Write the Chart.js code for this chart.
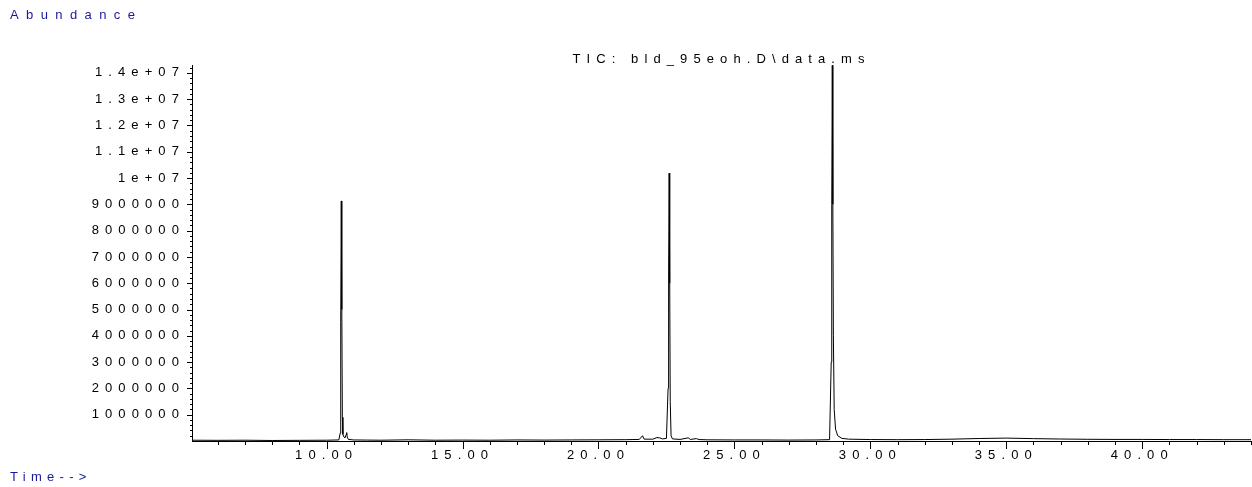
<!DOCTYPE html>
<html>
<head>
<meta charset="utf-8">
<script src="https://cdn.jsdelivr.net/npm/chart.js@4.4.1/dist/chart.umd.min.js"></script>
<style>
  html, body { margin: 0; padding: 0; background: #fff; }
  canvas { display: block; }
</style>
</head>
<body>
<canvas id="tic" width="1252" height="487"></canvas>
<script>
// retention time (min) and abundance
const times = [
  5.05, 6.0, 7.0, 8.0, 9.0, 10.0, 10.45, 10.50, 10.52, 10.54, 10.56, 10.58, 10.60,
  10.64, 10.68, 10.72, 10.74, 10.76, 10.80, 11.0, 11.5, 12.0, 13.0, 14.0, 15.0,
  16.0, 17.0, 18.0, 19.0, 20.0, 21.0, 21.5, 21.62, 21.68, 22.0, 22.15, 22.25,
  22.35, 22.50, 22.56, 22.58, 22.60, 22.62, 22.64, 22.67, 22.72, 23.0, 23.3,
  23.38, 23.6, 23.7, 24.0, 25.0, 26.0, 27.0, 28.0, 28.50, 28.56, 28.58, 28.60,
  28.62, 28.64, 28.67, 28.72, 28.80, 28.95, 29.2, 30.0, 31.0, 32.0, 33.0, 34.0,
  35.0, 36.0, 37.0, 38.0, 39.0, 40.0, 41.0, 42.0, 43.0, 44.0
];
const abundance = [
  30000, 25000, 30000, 20000, 25000, 30000, 40000, 300000, 4500000, 9130000, 5000000, 900000, 250000,
  150000, 120000, 250000, 320000, 150000, 60000, 40000, 35000, 30000, 45000, 30000, 35000,
  30000, 40000, 35000, 40000, 45000, 50000, 60000, 200000, 70000, 70000, 130000, 120000,
  80000, 100000, 2000000, 6500000, 10190000, 6000000, 1500000, 200000, 80000, 60000, 120000,
  60000, 90000, 55000, 45000, 40000, 40000, 35000, 40000, 50000, 3000000, 9000000, 14290000,
  9000000, 4000000, 1200000, 450000, 200000, 100000, 70000, 55000, 50000, 55000, 70000, 95000,
  110000, 90000, 75000, 65000, 60000, 60000, 55000, 55000, 50000, 50000
];

const xTickValues = [10, 15, 20, 25, 30, 35, 40];
const xTickLabels = ['10.00', '15.00', '20.00', '25.00', '30.00', '35.00', '40.00'];
const xMinorTicks = [6, 7, 8, 9, 11, 12, 13, 14, 16, 17, 18, 19, 21, 22, 23, 24, 26, 27, 28, 29,
  31, 32, 33, 34, 36, 37, 38, 39, 41, 42, 43, 44];

const yTickValues = [1000000, 2000000, 3000000, 4000000, 5000000, 6000000, 7000000,
  8000000, 9000000, 10000000, 11000000, 12000000, 13000000, 14000000];
const yTickLabels = ['1000000', '2000000', '3000000', '4000000', '5000000', '6000000', '7000000',
  '8000000', '9000000', '1e+07', '1.1e+07', '1.2e+07', '1.3e+07', '1.4e+07'];
const yMinorStep = 200000;

const titleText = 'TIC: bld_95eoh.D\\data.ms';
const yAxisText = 'Abundance';
const xAxisText = 'Time-->';

const FONT = '"Liberation Sans", Arial, sans-serif';
const FONT_SIZE = 13;
const SPACING = '6.1px';

Chart.defaults.font.family = FONT;
Chart.defaults.font.size = FONT_SIZE;
Chart.defaults.color = '#000';

// spaced-out lettering like the instrument printout
const spacingPlugin = {
  id: 'spacing',
  beforeUpdate(chart) { chart.ctx.letterSpacing = SPACING; },
  beforeDraw(chart) { chart.ctx.letterSpacing = SPACING; }
};

const extrasPlugin = {
  id: 'extras',
  afterDraw(chart) {
    const ctx = chart.ctx;
    const xs = chart.scales.x, ys = chart.scales.y;
    const area = chart.chartArea;
    ctx.save();
    ctx.strokeStyle = '#000';
    ctx.lineWidth = 1;
    ctx.beginPath();
    // x ticks
    xTickValues.forEach(v => {
      const px = Math.round(xs.getPixelForValue(v)) + 0.5;
      ctx.moveTo(px, area.bottom); ctx.lineTo(px, area.bottom + 8);
    });
    xMinorTicks.forEach(v => {
      const px = Math.round(xs.getPixelForValue(v)) + 0.5;
      ctx.moveTo(px, area.bottom); ctx.lineTo(px, area.bottom + 4);
    });
    // y ticks
    for (let v = yMinorStep; v <= ys.max; v += yMinorStep) {
      const py = Math.round(ys.getPixelForValue(v)) + 0.5;
      if (v % 1000000 === 0) {
        ctx.moveTo(area.left - 5, py); ctx.lineTo(area.left, py);
      } else {
        ctx.moveTo(area.left - 2, py); ctx.lineTo(area.left + 1, py);
      }
    }
    ctx.stroke();

    ctx.font = FONT_SIZE + 'px ' + FONT;
    ctx.textBaseline = 'alphabetic';
    ctx.fillStyle = '#000';
    ctx.textAlign = 'center';
    ctx.letterSpacing = SPACING;
    ctx.fillText(titleText, (area.left + area.right) / 2, 63);
    ctx.textAlign = 'left';
    ctx.fillStyle = '#1a1a99';
    ctx.letterSpacing = '7.4px';
    ctx.fillText(yAxisText, 10, 19);
    ctx.letterSpacing = '5.3px';
    ctx.fillText(xAxisText, 10, 481);
    ctx.restore();
  }
};

new Chart(document.getElementById('tic'), {
  type: 'line',
  data: {
    datasets: [{
      data: times.map((t, i) => ({ x: t, y: abundance[i] })),
      borderColor: '#000',
      borderWidth: 1,
      pointRadius: 0,
      tension: 0,
      fill: false
    }]
  },
  options: {
    responsive: false,
    animation: false,
    devicePixelRatio: 1,
    layout: { padding: { left: 0, top: 65, right: 1, bottom: 16 } },
    plugins: { legend: { display: false }, tooltip: { enabled: false }, title: { display: false } },
    scales: {
      x: {
        type: 'linear',
        min: 5.05,
        max: 44.0,
        afterBuildTicks: axis => { axis.ticks = xTickValues.map(v => ({ value: v })); },
        afterFit: axis => { axis.height = 30; },
        ticks: {
          autoSkip: false,
          maxRotation: 0,
          minRotation: 0,
          padding: 7,
          color: '#000',
          callback: v => xTickLabels[xTickValues.indexOf(v)] ?? ''
        },
        grid: { display: false, drawTicks: false },
        border: { display: true, color: '#000', width: 1 }
      },
      y: {
        type: 'linear',
        min: 0,
        max: 14300000,
        afterBuildTicks: axis => { axis.ticks = yTickValues.map(v => ({ value: v })); },
        afterFit: axis => { axis.width = 192; },
        ticks: {
          autoSkip: false,
          padding: 7,
          color: '#000',
          callback: v => yTickLabels[yTickValues.indexOf(v)] ?? ''
        },
        grid: { display: false, drawTicks: false },
        border: { display: true, color: '#000', width: 1 }
      }
    }
  },
  plugins: [spacingPlugin, extrasPlugin]
});
</script>
</body>
</html>
